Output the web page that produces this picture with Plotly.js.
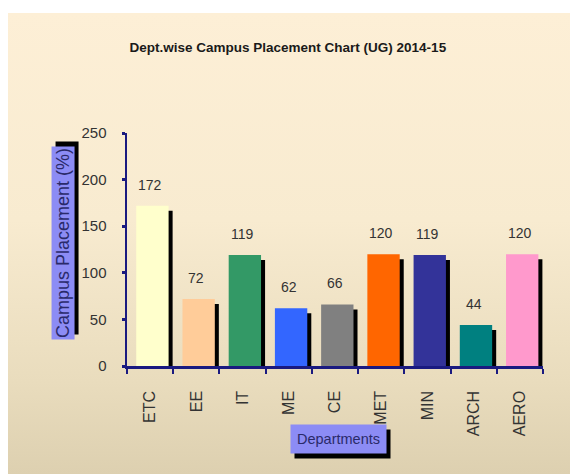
<!DOCTYPE html>
<html>
<head>
<meta charset="utf-8">
<script src="https://cdn.plot.ly/plotly-3.0.1.min.js"></script>
<style>
  html, body { margin: 0; padding: 0; background: #ffffff; }
  #wrap { position: relative; width: 570px; height: 474px; overflow: hidden; background: #ffffff; }
  #bg { position: absolute; left: 8px; top: 13px; right: 0; bottom: 0;
        background: linear-gradient(to bottom, #fdefd6 0%, #f8ebd0 45%, #e9dcbd 80%, #ddd0b0 100%); }
  #chart { position: absolute; left: 0; top: 0; width: 570px; height: 474px; }
</style>
</head>
<body>
<div id="wrap"><div id="bg"></div><div id="chart"></div></div>
<script>
const departments = ["ETC", "EE", "IT", "ME", "CE", "MET", "MIN", "ARCH", "AERO"];
const placement = [172, 72, 119, 62, 66, 120, 119, 44, 120];
const barColors = ["#FFFFCC", "#FFCC99", "#339966", "#3366FF", "#808080", "#FF6600", "#333399", "#008080", "#FF99CC"];
const yTicks = [0, 50, 100, 150, 200, 250];

const chartTitle = "Dept.wise Campus Placement Chart (UG) 2014-15";
const yTitle = "Campus Placement (%)";
const xTitle = "Departments";

const sans = "Arial, 'Liberation Sans', sans-serif";

const shadow = {
  type: "bar", x: departments, y: placement, base: -5.4,
  width: 0.7, offset: -0.213,
  marker: { color: "#000000", line: { width: 0 } },
  hoverinfo: "skip", showlegend: false
};
const bars = {
  type: "bar", x: departments, y: placement,
  width: 0.7, offset: -0.3,
  marker: { color: barColors, line: { width: 0 } },
  showlegend: false
};

const valueLabels = departments.map((d, i) => ({
  x: d, y: placement[i], xref: "x", yref: "y",
  text: String(placement[i]), showarrow: false, yshift: 21,
  font: { family: sans, size: 14, color: "#333333" }
}));

const yBoxFont = { family: sans, size: 18, color: "#2a2a6a" };
const xBoxFont = { family: sans, size: 14.5, color: "#2a2a6a" };
const black = f => Object.assign({}, f, { color: "#000000" });
const common = { xref: "paper", yref: "paper", showarrow: false, xanchor: "center", yanchor: "middle" };
const decor = [
  Object.assign({}, common, { x: -0.1538, y: 0.528, text: yTitle, textangle: -90,
    bgcolor: "#000000", font: black(yBoxFont), borderpad: 1, xshift: 4, yshift: 5 }),
  Object.assign({}, common, { x: -0.1538, y: 0.528, text: yTitle, textangle: -90,
    bgcolor: "#8c8cf5", font: yBoxFont, borderpad: 1 }),
  Object.assign({}, common, { x: 0.5096, y: -0.313, text: xTitle,
    bgcolor: "#000000", font: black(xBoxFont), borderpad: 6, xshift: 4, yshift: -5 }),
  Object.assign({}, common, { x: 0.5096, y: -0.313, text: xTitle,
    bgcolor: "#8c8cf5", font: xBoxFont, borderpad: 6 })
];

const layout = {
  width: 570, height: 474,
  margin: { l: 127, r: 27, t: 133, b: 108 },
  paper_bgcolor: "rgba(0,0,0,0)", plot_bgcolor: "rgba(0,0,0,0)",
  barmode: "overlay",
  title: { text: chartTitle, x: 0.505, xref: "container", xanchor: "center",
           y: 1 - 47 / 474, yref: "container", yanchor: "middle",
           font: { family: sans, size: 13.5, color: "#1a1a1a", weight: "bold" } },
  xaxis: {
    type: "category", tickson: "boundaries", ticks: "outside", ticklen: 5, tickwidth: 2,
    tickcolor: "#1a1a80", showline: true, linecolor: "#1a1a80", linewidth: 2.5,
    tickangle: -90, ticklabelstandoff: 16,
    tickfont: { family: sans, size: 16, color: "#333333" },
    showgrid: false, zeroline: false, fixedrange: true
  },
  yaxis: {
    range: [0, 250], tickvals: yTicks, ticktext: yTicks.map(String),
    ticks: "outside", ticklen: 3, tickwidth: 3, tickcolor: "#1a1a80",
    showline: true, linecolor: "#1a1a80", linewidth: 2.5,
    ticklabelstandoff: 12,
    tickfont: { family: sans, size: 15, color: "#333333" },
    showgrid: false, zeroline: false, fixedrange: true
  },
  annotations: valueLabels.concat(decor)
};

Plotly.newPlot("chart", [shadow, bars], layout, { displayModeBar: false, staticPlot: true });
</script>
</body>
</html>
